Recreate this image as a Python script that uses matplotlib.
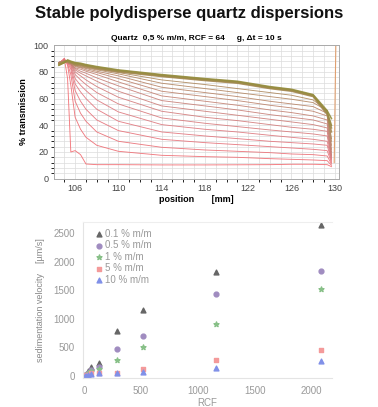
import matplotlib
matplotlib.use("Agg")
import matplotlib.pyplot as plt
from matplotlib.colors import LinearSegmentedColormap
from matplotlib.ticker import MultipleLocator

plt.rcParams["font.family"] = ["Liberation Sans", "DejaVu Sans"]

# --- top panel: transmission profiles (position in mm, % transmission) ---
positions = [104.5, 105.0, 105.3, 105.6, 106.0, 106.5, 107.0, 108.0, 110.0,
             114.0, 118.0, 121.0, 124.0, 126.0, 128.0, 129.3, 129.7]

profiles = [
    [86, 90, 75, 20, 21, 18, 11, 10.5, 10.5, 10.3, 10.3, 10.4, 10.5, 10.8, 10.8, 10.5, 9],
    [86, 90, 85, 70, 46, 37, 31, 25, 20.5, 17.5, 16.5, 16, 15, 14.5, 14, 13.5, 10],
    [86, 90, 86, 78, 58, 49, 43, 35, 28, 23.5, 21.5, 20.5, 19.5, 18.5, 18, 17, 11],
    [87, 89, 87, 82, 66, 58, 52, 44, 36, 29.5, 27, 25.5, 24, 23, 22, 21, 12],
    [87, 89, 87, 84, 71, 65, 60, 52, 43, 35, 32, 30, 28, 27, 26, 25, 13],
    [87, 89, 87, 85, 75, 70, 66, 59, 50, 40.5, 37, 35, 32.5, 31, 29.5, 28, 14],
    [87, 89, 87, 86, 78, 74, 70.5, 64.5, 56, 45.5, 41.5, 39, 36.5, 35, 33.5, 32, 15],
    [87, 88, 87, 86, 80, 77, 74, 69, 61, 50.5, 46, 43.5, 40.5, 38.5, 37, 35.5, 16],
    [87, 88, 87, 86, 81.5, 79, 77, 73, 65.5, 54.5, 50.5, 47.5, 44.5, 42.5, 40.5, 38, 17],
    [87, 88, 87, 86, 82.5, 80.5, 79, 75.5, 69.5, 58.5, 54.5, 51.5, 48, 46, 44, 41, 18],
    [87, 88, 87, 86, 83, 82, 80.5, 78, 72.5, 62, 58, 55, 51.5, 49.5, 47, 44, 20],
    [87, 88, 87, 86, 84, 83, 81.5, 79.5, 75, 65.5, 61.5, 58.5, 55, 53, 50.5, 47, 22],
    [87, 88, 87, 86.5, 84.5, 83.5, 82.5, 80.5, 77, 68.5, 64.5, 61.5, 58, 56, 54, 49, 25],
    [87, 88, 87.5, 86.5, 85, 84, 83, 81.5, 78.5, 71.5, 67.5, 64.5, 61.5, 59.5, 57, 51, 28],
    [87, 88, 87.5, 87, 85, 84.5, 83.5, 82, 79.5, 74, 70.5, 67.5, 64.5, 62.5, 59, 51, 30],
    [86, 88, 88, 87, 85.5, 85, 84, 82.5, 80, 76.5, 73.5, 71.5, 67.5, 65.5, 61.5, 48, 35],
    [86, 87, 88, 87, 86, 85.5, 84.5, 83, 80.5, 77, 74, 72, 68, 66, 62, 49, 38],
    [85, 87, 88.5, 87.5, 86.5, 86, 85, 83.5, 81, 77.5, 74.5, 72.5, 68.5, 66.5, 62.5, 50, 40],
    [85, 87, 89, 88, 87, 86.5, 85.5, 84, 81.5, 78, 75, 73, 69, 67, 63, 51, 45],
]

# --- bottom panel: sedimentation velocity vs RCF ---
rcf = [6, 15, 36, 62, 128, 288, 520, 1160, 2080]
v_01 = [15, 35, 90, 150, 220, 790, 1165, 1825, 2655]
v_05 = [10, 25, 60, 110, 165, 465, 710, 1440, 1845]
v_1 = [8, 18, 45, 80, 120, 280, 500, 910, 1520]
v_5 = [5, 10, 25, 45, 60, 55, 118, 280, 455]
v_10 = [3, 8, 18, 35, 45, 50, 68, 146, 263]

series_labels = ["0.1 % m/m", "0.5 % m/m", "1 % m/m", "5 % m/m", "10 % m/m"]

fig = plt.figure(figsize=(3.78, 4.07), dpi=100)

fig.text(0.5, 0.968, "Stable polydisperse quartz dispersions", ha="center",
         va="center", fontsize=12, fontweight="bold", color="#111111")

# top axes
ax1 = fig.add_axes([0.143, 0.561, 0.754, 0.328])
cmap = LinearSegmentedColormap.from_list(
    "prof", ["#f26a70", "#e07880", "#c88078", "#b08860", "#948c3c"])
n = len(profiles)
for i, prof in enumerate(profiles):
    lw = 1.1 if i >= n - 4 else 0.65
    ax1.plot(positions, prof, color=cmap(i / (n - 1)), linewidth=lw, alpha=0.9)
ax1.plot([129.95, 130.1], [12, 100], color="#e0a070", linewidth=0.8)

ax1.set_xlim(104.05, 130.4)
ax1.set_ylim(0, 100)
ax1.set_xticks([106, 110, 114, 118, 122, 126, 130])
ax1.set_yticks([0, 20, 40, 60, 80, 100])
ax1.xaxis.set_minor_locator(MultipleLocator(1))
ax1.yaxis.set_minor_locator(MultipleLocator(4))
ax1.grid(True, which="both", color="#dcdcdc", linewidth=0.5)
ax1.set_axisbelow(True)
ax1.tick_params(labelsize=6.5, colors="#444444", length=0, pad=4)
for sp in ax1.spines.values():
    sp.set_color("#aaaaaa")
    sp.set_linewidth(0.7)
ax1.set_title("Quartz  0,5 % m/m, RCF = 64     g, \u0394t = 10 s",
              fontsize=6, fontweight="bold", pad=4)
ax1.set_ylabel("% transmission", fontsize=6.5, fontweight="bold", labelpad=4)
ax1.set_xlabel("position       [mm]", fontsize=6.5, fontweight="bold", labelpad=1)

# bottom axes
ax2 = fig.add_axes([0.2196, 0.0713, 0.659, 0.383])
ax2.scatter(rcf, v_01, marker="^", s=12, color="#666666", label=series_labels[0])
ax2.scatter(rcf, v_05, marker="o", s=12, color="#a08cc0", label=series_labels[1])
ax2.scatter(rcf, v_1, marker="*", s=14, color="#88c088", label=series_labels[2])
ax2.scatter(rcf, v_5, marker="s", s=11, color="#f49a9a", label=series_labels[3])
ax2.scatter(rcf, v_10, marker="^", s=12, color="#8090e8", label=series_labels[4])

ax2.set_xlim(-10, 2180)
ax2.set_ylim(-35, 2700)
ax2.set_xticks([0, 500, 1000, 1500, 2000])
ax2.set_yticks([0, 500, 1000, 1500, 2000, 2500])
ax2.tick_params(labelsize=7, colors="#999999", length=0, pad=6)
ax2.spines["top"].set_color("#eeeeee")
ax2.spines["right"].set_visible(False)
ax2.spines["left"].set_color("#e4e4e4")
ax2.spines["bottom"].set_color("#e4e4e4")
ax2.set_xlabel("RCF", fontsize=7, color="#999999", labelpad=1)
ax2.set_ylabel("sedimentation velocity    [\u00b5m/s]", fontsize=6.5,
               color="#888888", labelpad=6)
leg = ax2.legend(loc="upper left", bbox_to_anchor=(0.02, 1.0), frameon=False,
                 fontsize=7, handlelength=0.8, handletextpad=0.3,
                 labelspacing=0.15, borderpad=0.2)
for t in leg.get_texts():
    t.set_color("#999999")

fig.savefig("out.png", dpi=100)
